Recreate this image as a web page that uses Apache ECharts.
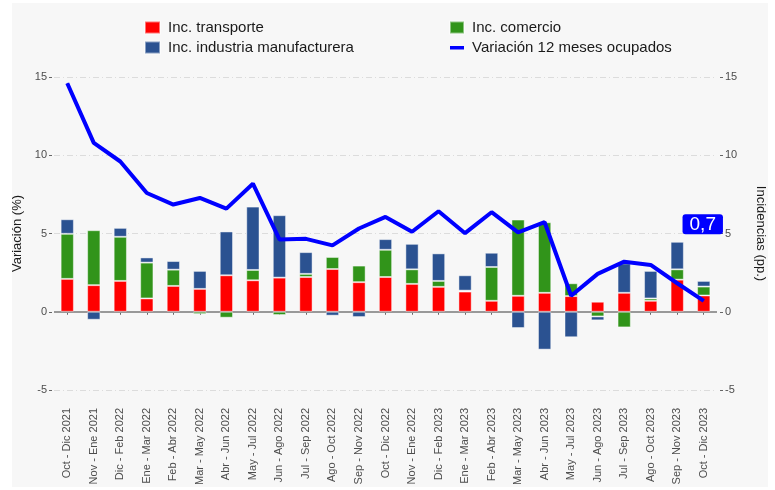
<!DOCTYPE html>
<html>
<head>
<meta charset="utf-8">
<script src="https://cdn.jsdelivr.net/npm/echarts@6/dist/echarts.min.js"></script>
<style>
  html, body { margin: 0; padding: 0; background: #ffffff; }
  #chart { width: 775px; height: 490px; }
</style>
</head>
<body>
<div id="chart"></div>
<script>
// trimestres móviles
const categorias = [
  'Oct - Dic 2021', 'Nov - Ene 2021', 'Dic - Feb 2022', 'Ene - Mar 2022', 'Feb - Abr 2022',
  'Mar - May 2022', 'Abr - Jun 2022', 'May - Jul 2022', 'Jun - Ago 2022', 'Jul - Sep 2022',
  'Ago - Oct 2022', 'Sep - Nov 2022', 'Oct - Dic 2022', 'Nov - Ene 2022', 'Dic - Feb 2023',
  'Ene - Mar 2023', 'Feb - Abr 2023', 'Mar - May 2023', 'Abr - Jun 2023', 'May - Jul 2023',
  'Jun - Ago 2023', 'Jul - Sep 2023', 'Ago - Oct 2023', 'Sep - Nov 2023', 'Oct - Dic 2023'
]

// incidencias (pp.)
const transporte = [2.10, 1.70, 1.97, 0.85, 1.65, 1.46, 2.33, 2.01, 2.18, 2.22, 2.73, 1.89, 2.22,
  1.78, 1.59, 1.29, 0.70, 1.02, 1.21, 1.00, 0.64, 1.21, 0.70, 2.05, 1.04]
const comercio = [2.88, 3.51, 2.82, 2.29, 1.04, -0.15, -0.38, 0.66, -0.21, 0.20, 0.77, 1.06, 1.74,
  0.93, 0.38, 0.06, 2.16, 4.87, 4.51, 0.82, -0.30, -1.00, 0.15, 0.66, 0.57]
const industria = [0.93, -0.51, 0.57, 0.33, 0.55, 1.15, 2.80, 4.05, 3.99, 1.39, -0.25, -0.34, 0.68,
  1.63, 1.76, 0.98, 0.91, -1.04, -2.42, -1.63, -0.25, 1.88, 1.76, 1.76, 0.36]

// variación 12 meses ocupados (%)
const variacion = [14.6, 10.79, 9.60, 7.59, 6.85, 7.27, 6.59, 8.18, 4.62, 4.66, 4.24, 5.32, 6.06,
  5.11, 6.42, 5.02, 6.36, 5.07, 5.72, 1.02, 2.42, 3.20, 2.99, 1.82, 0.7]

const fuente = "'Liberation Sans', Arial, sans-serif"
const gris = '#4d4d4d'

let chart = echarts.init(document.getElementById('chart'))

// último punto con su etiqueta
let lineaData = variacion.map((v, i) => {
  if (i !== variacion.length - 1) return v
  return {
    value: v,
    label: {
      show: true,
      position: 'top',
      offset: [-1, -61],
      formatter: String(v).replace('.', ','),
      color: '#ffffff',
      backgroundColor: '#0000ff',
      fontSize: 19,
      fontFamily: fuente,
      padding: [1, 7, 0, 7],
      borderRadius: 3
    }
  }
})

const ejeY = {
  type: 'value',
  min: -5,
  max: 15,
  interval: 5,
  axisLine: { show: false },
  axisTick: { show: true, length: 3, lineStyle: { color: '#666' } },
  axisLabel: { color: gris, fontSize: 11, fontFamily: fuente, margin: 5 },
  nameLocation: 'middle',
  nameTextStyle: { color: '#1a1a1a', fontSize: 13, fontFamily: fuente }
}

const barra = (nombre, datos, color) => ({
  name: nombre,
  type: 'bar',
  stack: 'inc',
  barWidth: '50%',
  data: datos,
  itemStyle: { color: color, borderColor: 'rgba(255,255,255,0.45)', borderWidth: 1 }
})

const leyenda = {
  top: 15,
  orient: 'vertical',
  itemHeight: 12,
  itemGap: 5,
  textStyle: { fontSize: 15, color: '#1a1a1a', padding: [0, 0, 0, 3] }
}

chart.setOption({
  backgroundColor: '#ffffff',
  animation: false,
  textStyle: { fontFamily: fuente },
  graphic: [{
    type: 'rect',
    z: -100,
    silent: true,
    shape: { x: 12, y: 3, width: 756, height: 484 },
    style: { fill: '#f7f7f7' }
  }],
  legend: [
    Object.assign({}, leyenda, {
      left: 139,
      itemWidth: 15,
      data: [{ name: 'Inc. transporte', icon: 'rect' }, { name: 'Inc. industria manufacturera', icon: 'rect' }]
    }),
    Object.assign({}, leyenda, {
      left: 444,
      itemWidth: 14,
      data: [
        { name: 'Inc. comercio', icon: 'rect' },
        { name: 'Variación 12 meses ocupados', icon: 'path://M0,0M0,4.5h14v3.5h-14zM14,12' }
      ]
    })
  ],
  grid: { left: 54, right: 50, top: 77, bottom: 100 },
  xAxis: {
    type: 'category',
    data: categorias,
    offset: 13,
    axisLine: { show: false },
    axisTick: { show: true, alignWithLabel: true, length: 3, lineStyle: { color: '#666' } },
    axisLabel: { rotate: 90, color: gris, fontSize: 11, fontFamily: fuente, margin: 5, interval: 0 }
  },
  yAxis: [
    Object.assign({}, ejeY, {
      name: 'Variación (%)',
      nameGap: 21,
      offset: 2,
      splitLine: { show: true, lineStyle: { color: '#dcdcdc', width: 1, type: [6, 3, 1, 3] } }
    }),
    Object.assign({}, ejeY, {
      name: 'Incidencias (pp.)',
      nameGap: 34,
      nameRotate: -90,
      offset: 3,
      position: 'right',
      splitLine: { show: false }
    })
  ],
  series: [
    barra('Inc. transporte', transporte, '#ff0000'),
    barra('Inc. comercio', comercio, '#31941a'),
    barra('Inc. industria manufacturera', industria, '#2b5291'),
    {
      name: 'Variación 12 meses ocupados',
      type: 'line',
      data: lineaData,
      showSymbol: true,
      symbol: 'circle',
      symbolSize: 1,
      z: 5,
      lineStyle: { color: '#0000ff', width: 4 },
      itemStyle: { color: '#0000ff' },
      markLine: {
        silent: true,
        symbol: 'none',
        label: { show: false },
        z: 1,
        lineStyle: { color: '#999999', width: 2, type: 'solid' },
        data: [{ yAxis: 0 }]
      }
    }
  ]
})
</script>
</body>
</html>
